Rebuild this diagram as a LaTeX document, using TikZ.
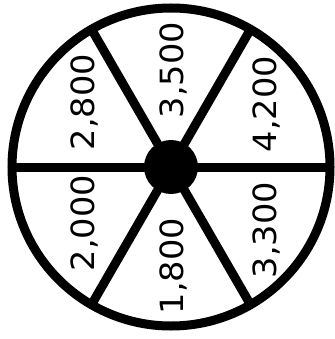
\documentclass[tikz,border=0pt]{standalone}
\usepackage{fontspec}
\setmainfont{DejaVu Sans}
\usetikzlibrary{positioning}

\begin{document}
\begin{tikzpicture}[
  x=1pt, y=-1pt,
  every node/.style={font=\fontsize{32}{32}\selectfont},
  rim/.style={circle, draw, line width=9pt, minimum size=318pt, inner sep=0pt, outer sep=0pt},
  hub/.style={circle, fill=black, minimum size=54pt, inner sep=0pt},
  spoke/.style={line width=9pt},
  prize/.style={rotate=90, inner sep=0pt, text height=23.3pt, text depth=0pt, anchor=center},
]

\useasboundingbox (0,0) rectangle (334,339);

% ---- Wheel ----
\node[rim] (wheel) at (171,167) {};

% ---- Spokes ----
\foreach \a in {0,60,...,300}
  \draw[spoke] (wheel.center) -- (wheel.\a);

\node[hub] (hub) at (wheel.center) {};

% ---- Prize labels ----
\node[prize] (p3500) at (172,70)  {\scalebox{1.05}[1]{3,500}};
\node[prize] (p2800) at (83,102)  {\scalebox{1.05}[1]{2,800}};
\node[prize] (p4200) at (265,104) {\scalebox{1.05}[1]{4,200}};
\node[prize] (p2000) at (83,223)  {\scalebox{1.05}[1]{2,000}};
\node[prize] (p1800) at (172,266) {\scalebox{1.05}[1]{1,800}};
\node[prize] (p3300) at (265,230) {\scalebox{1.05}[1]{3,300}};

\end{tikzpicture}
\end{document}
